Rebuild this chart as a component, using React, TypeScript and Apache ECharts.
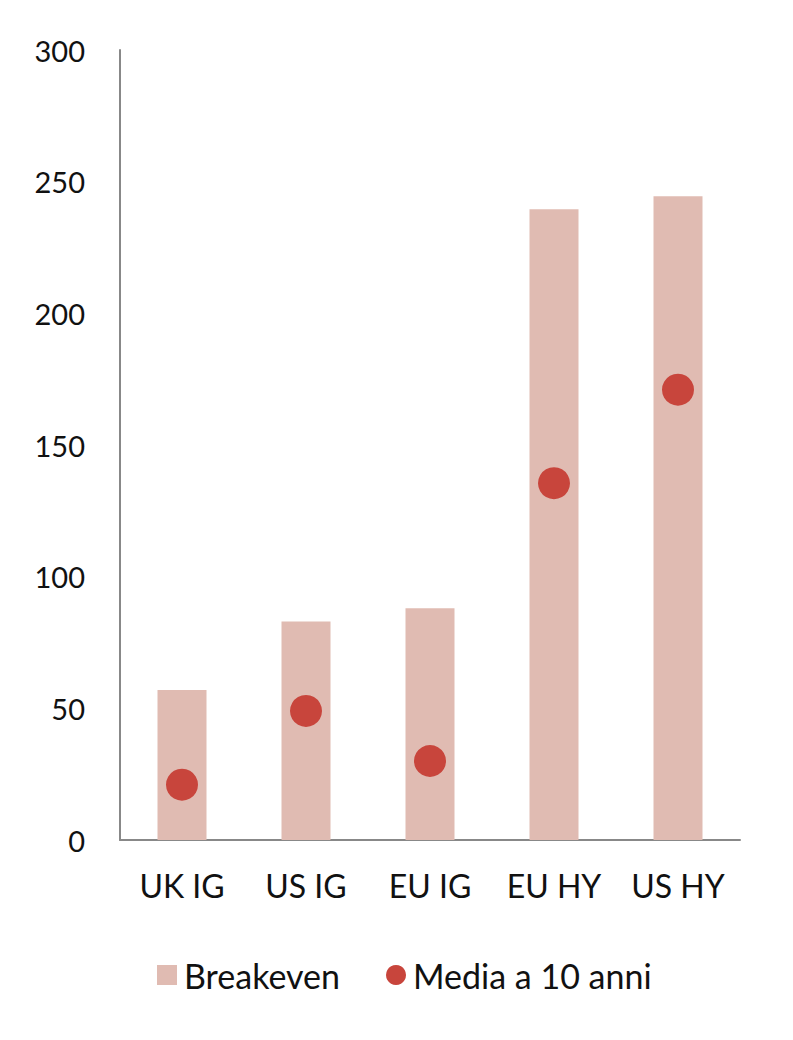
import React, { useEffect, useRef } from "react";
import * as echarts from "echarts";

const categories = ["UK IG", "US IG", "EU IG", "EU HY", "US HY"];
const breakeven = [57, 83, 88, 239.5, 244.5];
const media10 = [21, 49, 30, 135.5, 171];

const FONT = "Lato";

export default function App() {
  const ref = useRef<HTMLDivElement>(null);
  useEffect(() => {
    const chart = echarts.init(ref.current!, null, { renderer: "svg" });
    chart.setOption({
      animation: false,
      textStyle: { fontFamily: FONT },
      grid: { left: 120, right: 53, top: 50, bottom: 200, containLabel: false },
      legend: {
        left: 152,
        top: 953,
        itemWidth: 20,
        itemHeight: 20,
        itemGap: 46,
        textStyle: { fontFamily: FONT, fontSize: 34, color: "#111", padding: [0, 0, 0, 2] },
        data: [
          { name: "Breakeven", icon: "rect" },
          { name: "Media a 10 anni", icon: "circle" },
        ],
      },
      xAxis: {
        type: "category",
        data: categories,
        axisLine: { lineStyle: { color: "#888", width: 2 } },
        axisTick: { show: false },
        axisLabel: { fontFamily: FONT, fontSize: 32, color: "#111", margin: 29, interval: 0 },
      },
      yAxis: {
        type: "value",
        min: 0,
        max: 300,
        interval: 50,
        axisLine: { show: true, lineStyle: { color: "#888", width: 2 } },
        axisTick: { show: false },
        splitLine: { show: false },
        axisLabel: { fontFamily: FONT, fontSize: 29, color: "#111", margin: 35 },
      },
      series: [
        {
          name: "Breakeven",
          type: "bar",
          data: breakeven,
          barWidth: 49,
          itemStyle: { color: "#E0BBB2" },
          z: 1,
        },
        {
          name: "Media a 10 anni",
          type: "scatter",
          data: media10,
          symbol: "circle",
          symbolSize: 32,
          itemStyle: { color: "#C8453C", opacity: 1 },
          z: 3,
        },
      ],
    });
    return () => chart.dispose();
  }, []);
  return <div ref={ref} style={{ width: 793, height: 1040, position: "absolute", left: 0, top: 0 }} />;
}
